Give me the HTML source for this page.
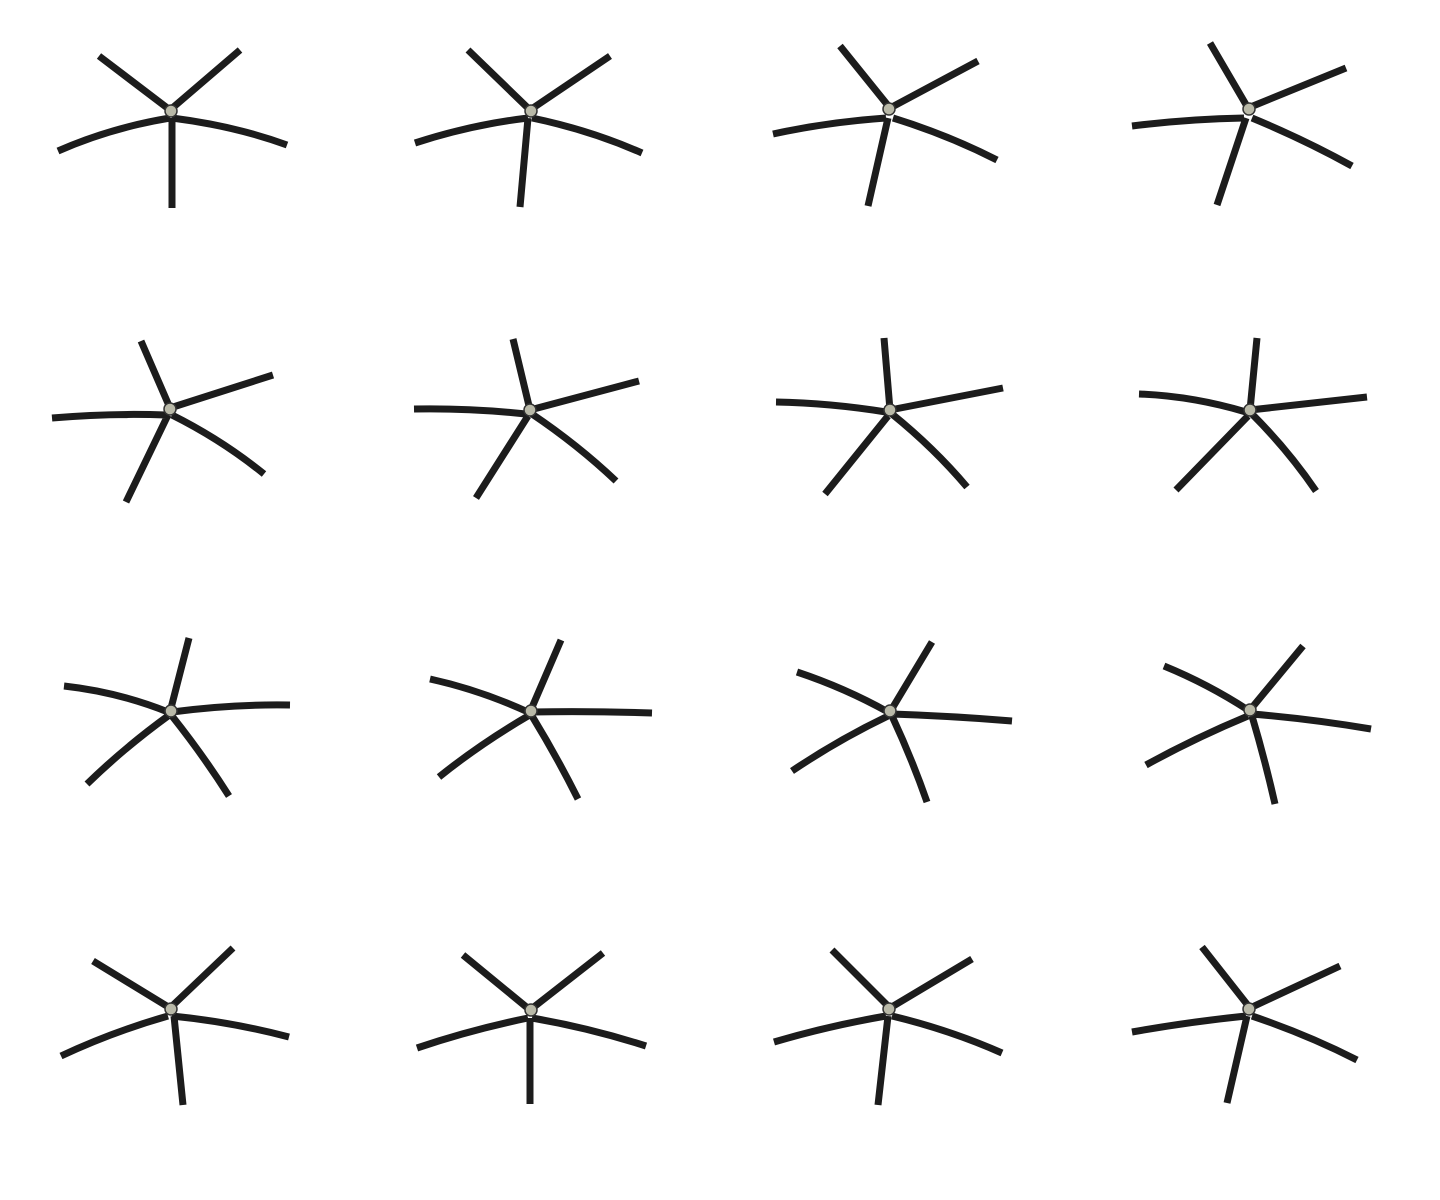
<!DOCTYPE html>
<html><head><meta charset="utf-8"><style>html,body{margin:0;padding:0;background:#fff}svg{display:block}</style></head>
<body>
<svg width="1440" height="1200" viewBox="0 0 1440 1200" xmlns="http://www.w3.org/2000/svg">
<g stroke="#1c1c1c" stroke-width="7" fill="none" stroke-linecap="butt">
<path d="M170 110 L99 56 M170 110 L240 50 M170 118 Q110 128 58 151 M172 118 Q235 126 287 145 M172 118 L172 208"/>
<path d="M530 110 L468 50 M530 110 L610 56 M528 118 Q470 125 415 143 M532 118 Q590 130 642 153 M528 118 L520 207"/>
<path d="M890 108 L840 46 M890 108 L978 61 M886 118 Q828 122 773 134 M893 118 Q948 135 997 160 M888 118 L868 206"/>
<path d="M1248 108 L1210 43 M1248 108 L1346 68 M1244 118 Q1188 119 1132 126 M1252 118 Q1305 140 1352 166 M1246 118 L1217 205"/>
<path d="M170 408 L141 341 M170 408 L273 375 M166 415 Q110 413 52 418 M172 415 Q222 440 264 474 M168 415 L126 502"/>
<path d="M530 410 L513 339 M530 410 L639 381 M526 414 Q470 408 414 409 M532 414 Q578 445 616 481 M528 416 L476 498"/>
<path d="M890 410 L884 338 M890 410 L1003 388 M886 412 Q830 403 776 402 M892 414 Q934 448 967 487 M888 416 L825 494"/>
<path d="M1250 410 L1257 338 M1250 410 L1367 397 M1246 412 Q1192 396 1139 394 M1252 414 Q1288 450 1316 491 M1248 416 L1176 490"/>
<path d="M170 712 L189 638 M172 712 Q232 704 290 705 M168 712 Q118 692 64 686 M172 716 Q203 755 229 796 M168 716 Q124 748 87 784"/>
<path d="M530 712 L561 640 M532 712 Q592 711 652 713 M528 712 Q480 690 430 679 M532 716 Q557 757 578 799 M528 716 Q480 744 439 777"/>
<path d="M890 712 L932 642 M892 714 Q952 716 1012 721 M888 712 Q845 688 797 672 M892 716 Q912 759 927 802 M888 716 Q838 740 792 771"/>
<path d="M1250 710 L1303 646 M1252 714 Q1312 719 1371 729 M1248 710 Q1208 684 1164 666 M1252 716 Q1265 760 1275 804 M1248 716 Q1195 738 1146 765"/>
<path d="M170 1008 L93 961 M170 1008 L233 948 M168 1016 Q112 1032 61 1056 M172 1016 Q232 1022 289 1037 M174 1016 L183 1105"/>
<path d="M530 1010 L463 955 M530 1010 L603 953 M528 1018 Q470 1030 417 1048 M532 1018 Q590 1028 646 1046 M530 1018 L530 1104"/>
<path d="M890 1008 L832 950 M890 1008 L972 959 M886 1016 Q828 1026 774 1042 M892 1016 Q950 1030 1002 1053 M888 1016 L878 1105"/>
<path d="M1250 1008 L1202 947 M1250 1008 L1340 966 M1246 1016 Q1188 1022 1132 1032 M1252 1016 Q1308 1035 1357 1060 M1247 1016 L1227 1103"/>
</g>
<g fill="#b9b9a8" stroke="#333" stroke-width="1.5">
<circle cx="171" cy="111" r="6"/><circle cx="531" cy="111" r="6"/><circle cx="889" cy="109" r="6"/><circle cx="1249" cy="109" r="6"/>
<circle cx="170" cy="409" r="6"/><circle cx="530" cy="410" r="6"/><circle cx="890" cy="410" r="6"/><circle cx="1250" cy="410" r="6"/>
<circle cx="171" cy="711" r="6"/><circle cx="531" cy="711" r="6"/><circle cx="890" cy="711" r="6"/><circle cx="1250" cy="710" r="6"/>
<circle cx="171" cy="1009" r="6"/><circle cx="531" cy="1010" r="6"/><circle cx="889" cy="1009" r="6"/><circle cx="1249" cy="1009" r="6"/>
</g>
</svg>
</body></html>
